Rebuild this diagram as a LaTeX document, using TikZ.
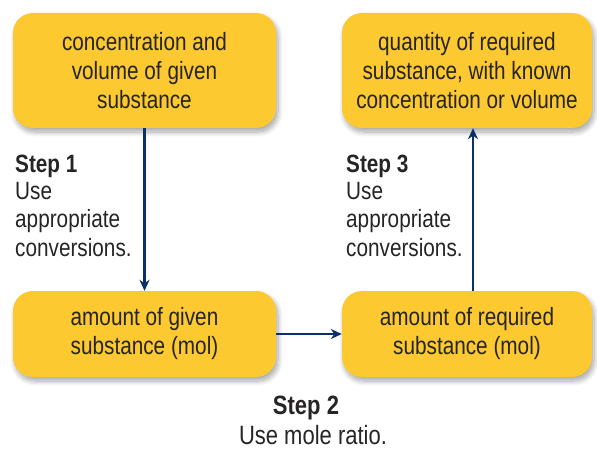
\documentclass[tikz,border=0pt]{standalone}
\usepackage{fontspec}
\setmainfont{Liberation Sans}[FakeStretch=0.83]
\usetikzlibrary{arrows.meta,shadows.blur}
\definecolor{boxfill}{HTML}{FCC930}
\definecolor{navy}{HTML}{0B2F6B}
\definecolor{txt}{HTML}{262424}
\tikzset{
  stepbox/.style={fill=boxfill, rounded corners=20pt, align=center, inner sep=0pt,
    text=txt, font=\fontsize{25}{29}\selectfont,
    blur shadow={shadow xshift=2pt, shadow yshift=-4pt, shadow blur steps=10, shadow blur radius=5pt, shadow opacity=35}},
  arr/.style={draw=navy, line width=2.4pt, -{Stealth[length=11pt,width=10pt]}},
  lbl/.style={anchor=base west, inner sep=0pt, text=txt, font=\fontsize{25}{29}\selectfont},
  lblc/.style={anchor=base, inner sep=0pt, text=txt, font=\fontsize{26.5}{29}\selectfont}
}
\begin{document}
\begin{tikzpicture}[x=1pt,y=-1pt]
\useasboundingbox (0,0) rectangle (597,449);
\node[stepbox, minimum width=263pt, minimum height=115pt] (b1) at (144.5,70.5)
  {concentration and\\volume of given\\substance};
\node[stepbox, minimum width=250pt, minimum height=115pt] (b2) at (467,70.5)
  {quantity of required\\substance, with known\\concentration or volume};
\node[stepbox, minimum width=263pt, minimum height=86pt] (b3) at (144.5,334)
  {amount of given\\substance (mol)};
\node[stepbox, minimum width=250pt, minimum height=86pt] (b4) at (467,334)
  {amount of required\\substance (mol)};

\draw[arr] (b1.south) -- (b3.north);
\draw[arr] ([xshift=6pt]b4.north) -- ([xshift=6pt]b2.south);
\draw[arr] (b3.east) -- (b4.west);

\node[lbl] (s1a) at (15,173) {\bfseries Step 1};
\node[lbl] (s1b) at (15,200) {Use};
\node[lbl] (s1c) at (15,228) {appropriate};
\node[lbl] (s1d) at (15,256) {conversions.};

\node[lbl] (s3a) at (346,173) {\bfseries Step 3};
\node[lbl] (s3b) at (346,200) {Use};
\node[lbl] (s3c) at (346,228) {appropriate};
\node[lbl] (s3d) at (346,256) {conversions.};

\node[lblc] (s2a) at (306,414) {\bfseries Step 2};
\node[lblc] (s2b) at (313,444) {Use mole ratio.};
\end{tikzpicture}
\end{document}
